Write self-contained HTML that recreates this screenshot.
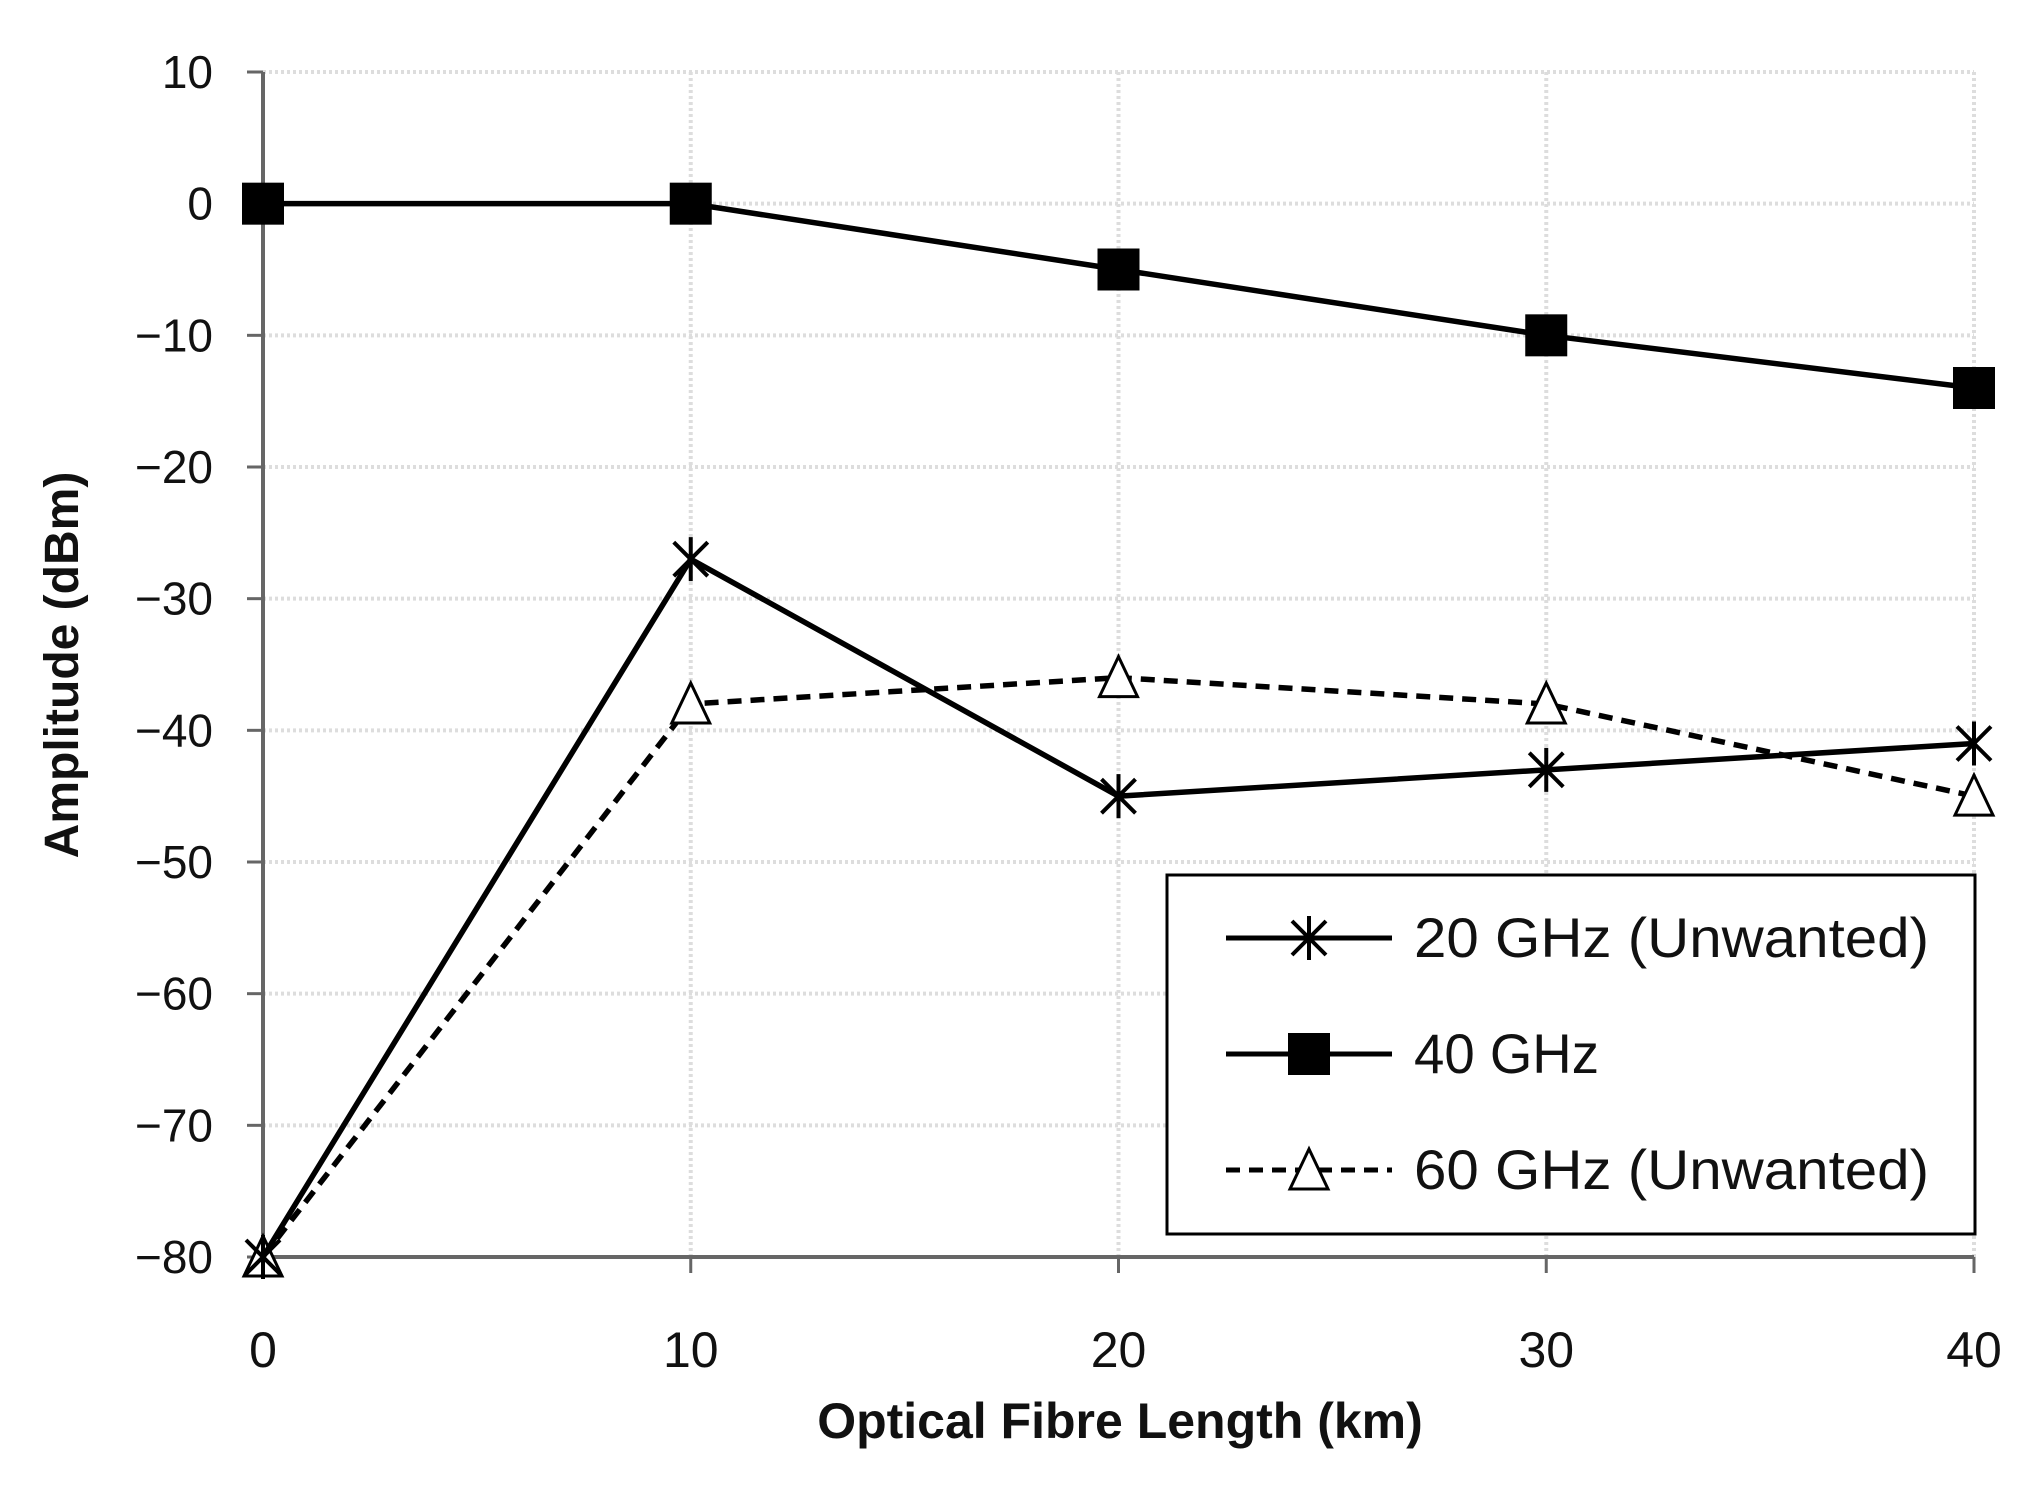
<!DOCTYPE html>
<html><head><meta charset="utf-8"><style>
html,body{margin:0;padding:0;background:#fff;}
svg text{font-family:"Liberation Sans",sans-serif;fill:#111;}
</style></head><body>
<svg id="chart" width="2043" height="1484" xmlns="http://www.w3.org/2000/svg">
<g id="grid"></g>
<g id="axes"></g>
<g id="series"></g>
<text x="1120" y="1438" font-size="50" font-weight="bold" text-anchor="middle">Optical Fibre Length (km)</text>
<text transform="translate(78,665) rotate(-90)" font-size="48" font-weight="bold" text-anchor="middle">Amplitude (dBm)</text>
<g>
<rect x="1167" y="875" width="808" height="359" fill="#fff" stroke="#000" stroke-width="3"/>
<g id="legend-items"></g>
</g>
</svg>
<script>
const categories=[0,10,20,30,40];
const s20=[-80,-27,-45,-43,-41];
const s40=[0,0,-5,-10,-14];
const s60=[-80,-38,-36,-38,-45];
const yTicks=[10,0,-10,-20,-30,-40,-50,-60,-70,-80];
const seriesNames=["20 GHz (Unwanted)","40 GHz","60 GHz (Unwanted)"];
const nameLens=[515,185,515];
const NS="http://www.w3.org/2000/svg";
const X0=263,X1=1974,Y0=72,Y1=1257;
function xs(v){return X0+(v-0)/(40-0)*(X1-X0);}
function ys(v){return Y0+(10-v)/(10-(-80))*(Y1-Y0);}
function mk(tag,attrs,parent){const e=document.createElementNS(NS,tag);for(const k in attrs)e.setAttribute(k,attrs[k]);parent.appendChild(e);return e;}
const grid=document.getElementById('grid'),axes=document.getElementById('axes'),ser=document.getElementById('series'),leg=document.getElementById('legend-items');
yTicks.forEach(t=>{
  const y=ys(t);
  if(t!==-80){const g=mk('line',{x1:X0,x2:X1,y1:y,y2:y,stroke:'#ddd','stroke-width':4,'stroke-dasharray':'3 3'},grid);
  
  }
  const tk=mk('line',{x1:X0-16,x2:X0,y1:y,y2:y,stroke:'#666','stroke-width':3},axes);
  
  
  const l=mk('text',{x:X0-50,y:y+16,'font-size':46,'text-anchor':'end'},axes);
  l.textContent=(t<0?'\u2212':'')+Math.abs(t);
  
  
});
categories.forEach(c=>{
  const x=xs(c);
  if(c!==0){const g=mk('line',{x1:x,x2:x,y1:Y0,y2:Y1,stroke:'#ddd','stroke-width':4,'stroke-dasharray':'3 3'},grid);
  
  }
  const tk=mk('line',{x1:x,x2:x,y1:Y1,y2:Y1+16,stroke:'#666','stroke-width':3},axes);
  
  
  const l=mk('text',{x:x,y:1367,'font-size':50,'text-anchor':'middle'},axes);
  l.textContent=c;
  
  
});
const ya=mk('line',{x1:X0,x2:X0,y1:Y0,y2:Y1,stroke:'#666','stroke-width':4},axes);


const xa=mk('line',{x1:X0,x2:X1,y1:Y1,y2:Y1,stroke:'#666','stroke-width':4},axes);


function marker(type,x,y,parent){
  let e;
  if(type==='sq'){e=mk('rect',{x:x-21,y:y-21,width:42,height:42,fill:'#000'},parent);}
  else if(type==='tri'){e=mk('polygon',{points:`${x},${y-21} ${x-19},${y+19} ${x+19},${y+19}`,fill:'#fff',stroke:'#000','stroke-width':3},parent);}
  else{e=mk('path',{d:`M${x-17} ${y-17}L${x+17} ${y+17}M${x-17} ${y+17}L${x+17} ${y-17}M${x} ${y-22}L${x} ${y+22}`,stroke:'#000','stroke-width':4,fill:'none'},parent);}
  return e;
}
function drawSeries(vals,type,dash,name){
  const g=mk('g',{},ser);
  
  
  const pts=vals.map((v,i)=>xs(categories[i])+','+ys(v)).join(' ');
  const pl=mk('polyline',{points:pts,fill:'none',stroke:'#000','stroke-width':5.5,'stroke-dasharray':dash||''},g);
  
  
  vals.forEach((v,i)=>{const m=marker(type,xs(categories[i]),ys(v),g);
    
    });
}
drawSeries(s60,'tri','14 9','series-60ghz');
drawSeries(s20,'star','','series-20ghz');
drawSeries(s40,'sq','','series-40ghz');
[['star',''],['sq',''],['tri','14 9']].forEach((d,i)=>{
  const y=938+i*116;
  const g=mk('g',{},leg);
  
  
  mk('line',{x1:1226,x2:1392,y1:y,y2:y,stroke:'#000','stroke-width':5,'stroke-dasharray':d[1]},g);
  marker(d[0],1309,y,g);
  const t=mk('text',{x:1414,y:y+19,'font-size':56,textLength:nameLens[i],lengthAdjust:'spacingAndGlyphs'},g);
  t.textContent=seriesNames[i];
});
</script>
</body></html>
